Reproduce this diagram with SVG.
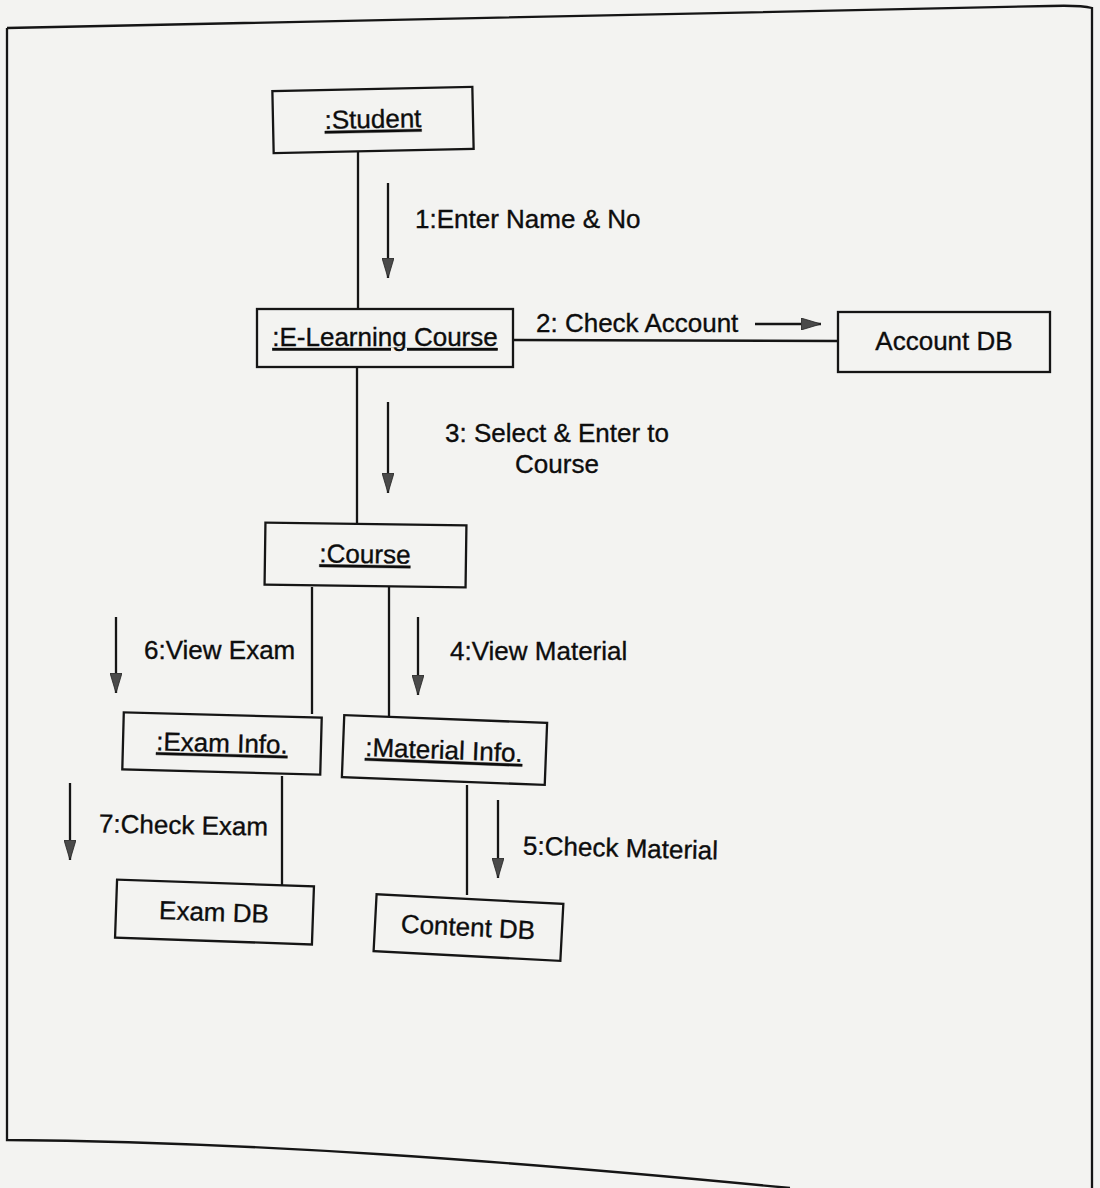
<svg xmlns="http://www.w3.org/2000/svg" width="1100" height="1188" viewBox="0 0 1100 1188">
<defs>
<style>
.bg{fill:#f3f3f1}
.box{fill:none;stroke:#151515;stroke-width:2.3}
.ln{stroke:#151515;stroke-width:2.3;fill:none}
.t{font-family:"Liberation Sans",Arial,sans-serif;font-size:26px;fill:#0d0d0d;stroke:#0d0d0d;stroke-width:0.35}
.u{text-decoration:underline}
.m{text-anchor:middle}
</style>
<marker id="ah" viewBox="0 0 20 12" refX="20" refY="6" markerWidth="20" markerHeight="12" markerUnits="userSpaceOnUse" orient="auto">
<path d="M0,0 L20,6 L0,12 Z" fill="#4a4a4a" stroke="#222" stroke-width="0.8"/>
</marker>
</defs>
<rect class="bg" x="0" y="0" width="1100" height="1188"/>
<path class="ln" d="M7,28 Q550,16 1050,6 Q1080,5 1092,8 L1092,1188 M7,28 L7,1140 C250,1142 500,1160 790,1188"/>

<g id="connectors">
<line class="ln" x1="358" y1="151" x2="358" y2="309"/>
<line class="ln" x1="357" y1="367" x2="357" y2="524"/>
<line class="ln" x1="312" y1="587" x2="312" y2="714"/>
<line class="ln" x1="389" y1="587" x2="389" y2="717"/>
<line class="ln" x1="282" y1="776" x2="282" y2="885"/>
<line class="ln" x1="467" y1="785" x2="467" y2="895"/>
<line class="ln" x1="513" y1="340" x2="838" y2="341"/>
<line class="ln" x1="388" y1="183" x2="388" y2="278" marker-end="url(#ah)"/>
<line class="ln" x1="755" y1="324" x2="821" y2="324" marker-end="url(#ah)"/>
<line class="ln" x1="388" y1="402" x2="388" y2="493" marker-end="url(#ah)"/>
<line class="ln" x1="418" y1="617" x2="418" y2="695" marker-end="url(#ah)"/>
<line class="ln" x1="498" y1="800" x2="498" y2="878" marker-end="url(#ah)"/>
<line class="ln" x1="116" y1="617" x2="116" y2="693" marker-end="url(#ah)"/>
<line class="ln" x1="70" y1="783" x2="70" y2="860" marker-end="url(#ah)"/>
<text class="t" x="415" y="228">1:Enter Name &amp; No</text>
<text class="t" x="536" y="332">2: Check Account</text>
<text class="t m" x="557" y="442">3: Select &amp; Enter to</text>
<text class="t m" x="557" y="473">Course</text>
<text class="t" x="450" y="660">4:View Material</text>
<text class="t" x="144" y="659">6:View Exam</text>
<text class="t" x="99" y="834" transform="rotate(1 180 826)">7:Check Exam</text>
<text class="t" x="523" y="857" transform="rotate(1.5 623 849)">5:Check Material</text>
</g>

<g id="student" transform="rotate(-1.2 373 120)">
<rect class="box" x="273" y="89" width="200" height="62"/>
<text class="t u m" x="373" y="128">:Student</text>
</g>
<g id="elearning">
<rect class="box" x="257" y="309" width="256" height="58"/>
<text class="t u m" x="385" y="346">:E-Learning Course</text>
</g>
<g id="accountdb">
<rect class="box" x="838" y="312" width="212" height="60"/>
<text class="t m" x="944" y="350">Account DB</text>
</g>
<g id="course" transform="rotate(0.8 365 555)">
<rect class="box" x="265" y="524" width="201" height="62"/>
<text class="t u m" x="365" y="563">:Course</text>
</g>
<g id="examinfo" transform="rotate(1.5 222 744)">
<rect class="box" x="123" y="715" width="198" height="57"/>
<text class="t u m" x="222" y="752">:Exam Info.</text>
</g>
<g id="materialinfo" transform="rotate(2.2 444 750)">
<rect class="box" x="343" y="719" width="203" height="62"/>
<text class="t u m" x="444" y="759">:Material Info.</text>
</g>
<g id="examdb" transform="rotate(2 214 912)">
<rect class="box" x="116" y="883" width="197" height="58"/>
<text class="t m" x="214" y="921">Exam DB</text>
</g>
<g id="contentdb" transform="rotate(3 468 927)">
<rect class="box" x="375" y="899" width="187" height="57"/>
<text class="t m" x="468" y="936">Content DB</text>
</g>
</svg>
